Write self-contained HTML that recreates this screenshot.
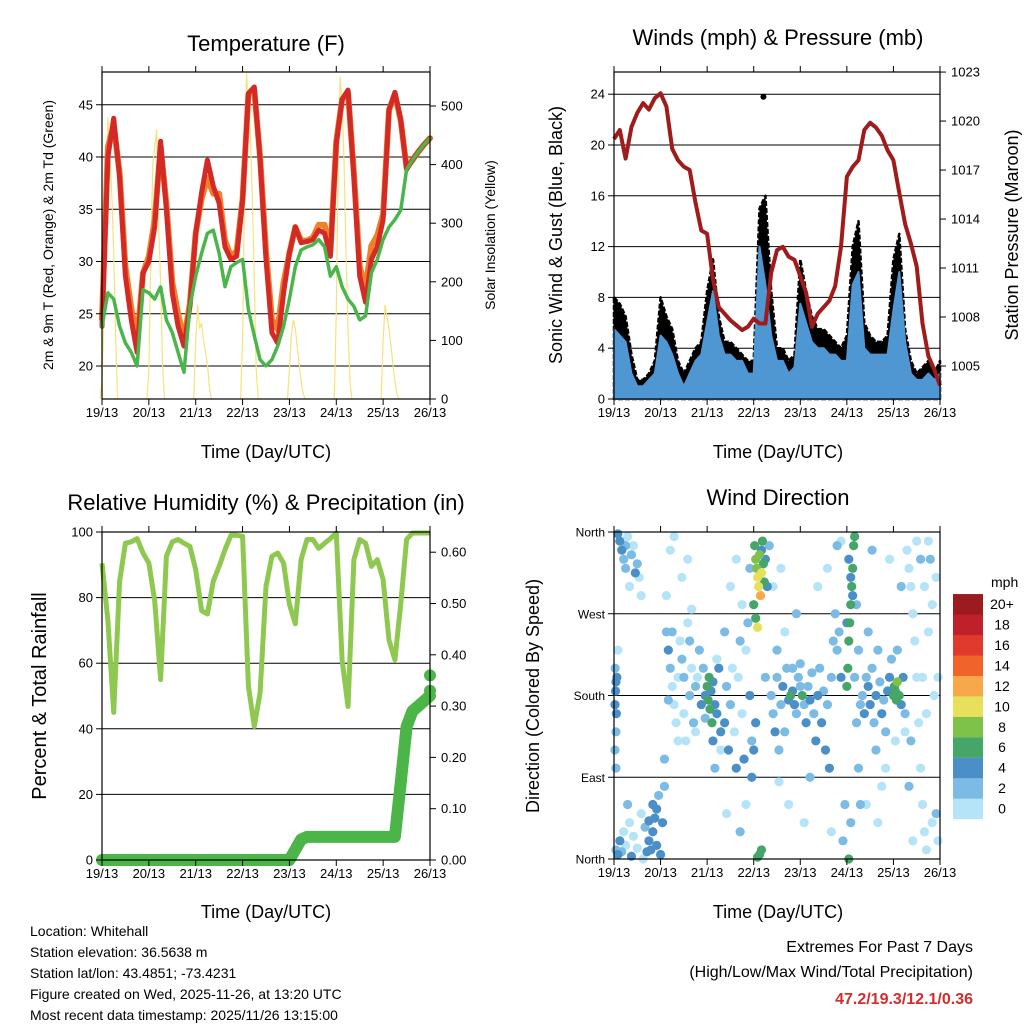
<!DOCTYPE html>
<html><head><meta charset="utf-8"><style>
html,body{margin:0;padding:0;background:#fff;}
svg{display:block;font-family:"Liberation Sans",Arial,sans-serif;}
</style></head><body>
<svg id="c" width="1024" height="1024" viewBox="0 0 1024 1024"></svg>
<script>
// ---------- DATA (3-hourly from 19/13 UTC) ----------
const dayLabels = ["19/13","20/13","21/13","22/13","23/13","24/13","25/13","26/13"];
const temp2m = [23.8,40,43.7,38.1,28.6,24.4,21.3,28.9,30,33.3,41.5,35,27,23.8,21.9,25.7,32.7,36.6,39.7,37.2,35.6,31.4,30.2,30.5,35.9,46.1,46.7,39.7,30.2,23.2,22.2,27,30.8,33.3,31.8,31.9,32.1,33,32.7,30.5,41.3,45.5,46.4,38.1,28.6,26.1,30.2,31.4,34,44.5,46.2,43.6,38.8,39.7,40.5,41.2,41.8];
const temp9m = [24.5,41,43,38.5,29.5,25.5,22.5,28.9,30.5,34,41,35.5,28,25,22.5,26,32.7,36,38,36.5,36.5,32,30.5,31,36,46,46.3,40,31,24.5,23.5,28,30.8,33.3,32,32,32.3,33.5,33.5,31,41.5,45.5,46.2,38.5,29.5,27.5,31.5,32.5,34.5,44.5,46,43.5,39,39.7,40.5,41.2,41.8];
const dewpt = [23.8,27,26.4,23.8,22.2,21.3,20,27.3,27,26.4,27.6,24.4,23.2,21.3,19.4,25.7,28.6,30.8,32.7,33,30.8,27.6,29.5,29.9,30.2,25.4,22.9,20.6,20,20.6,21.9,23.8,26.4,29.5,31.1,31.4,31.6,32.1,31.4,28.6,29.5,27.6,26.4,25.7,24.4,24.8,28.9,30.2,32.1,33.3,34,34.9,38.8,39.7,40.5,41.2,41.8];
// hourly solar insolation for hours 0..8 after each day tick (W/m2)
const solarDays = [
 [30,150,350,480,420,350,250,100,0],
 [50,250,400,430,460,300,200,60,0],
 [100,160,120,130,100,80,60,20,0],
 [100,350,556,500,450,350,200,50,0],
 [50,110,135,120,90,60,30,10,0],
 [150,400,550,500,400,250,120,30,0],
 [100,160,140,120,90,60,30,10,0]
];
const pressure = [1018.9,1019.45,1017.7,1019.65,1020.5,1021.1,1020.7,1021.4,1021.7,1020.9,1018.3,1017.6,1017.2,1017,1015,1013.3,1013.1,1010.3,1008.6,1008.2,1007.8,1007.5,1007.2,1007.4,1007.9,1007.6,1007.6,1010.7,1012.1,1012.3,1011.7,1011.5,1010.5,1009.5,1007.4,1008.2,1008.6,1009,1009.9,1012.3,1016.6,1017.2,1017.6,1019.45,1019.9,1019.6,1019.1,1018.2,1017.6,1015.6,1013.7,1012.5,1011.1,1007.6,1005.6,1004.8,1003.8];
const gustHigh = [8,7.5,6.5,3.5,1.5,1.5,2,3,8,6.5,5.5,3,2,3,4,4.5,8.5,11,6.5,4.5,4.5,4,3.5,3,3,15,16,8.5,4,4,3,3.5,11,8.5,6.5,5.5,5.5,5,4.5,4,5,12,14,6,5,4.5,4.5,5,11,13,5.5,3,2,2.5,3,2,3];
const windHigh = [5.5,5,4.5,2,1,1,1.5,2,5,4.5,3.5,2,1,2,3,3.5,6,8.5,5,3.5,3.5,3,3,2,2,12,9,5,3,3,2,2.5,7.5,6,4.5,4,4,3.5,3.5,3,3,9,10,4,3.5,3.5,3.5,3.5,7,10,4.5,2,1.5,1.5,2,1.5,2];
const gustOutlierHour = 77; const gustOutlierVal = 23.8;
const rh = [90.5,73,45,85,96.6,97,98,93.6,90.5,79,55,92.6,97,97.7,96.6,95.6,88.5,76,75,85,89.5,94.6,99,99,98.7,53,40.7,51,83.4,92.6,93.6,90.5,78,72,91.6,97.7,97.7,95,96.6,98,99.7,61,46.8,91.6,97.7,96.6,89.5,91.6,85.5,67,61,78,97.7,99.7,99.7,99.7,99.7];
const precip = [0,0,0,0,0,0,0,0,0,0,0,0,0,0,0,0,0,0,0,0,0,0,0,0,0,0,0,0,0,0,0,0,0,0.02,0.04,0.045,0.045,0.045,0.045,0.045,0.045,0.045,0.045,0.045,0.045,0.045,0.045,0.045,0.045,0.045,0.045,0.15,0.26,0.29,0.30,0.31,0.32];
const precipEnd = [0.33,0.36];
const tempTicks = [20,25,30,35,40,45];
const solarTicks = [0,100,200,300,400,500];
const windTicks = [0,4,8,12,16,20,24];
const presTicks = [1005,1008,1011,1014,1017,1020,1023];
const rhTicks = [0,20,40,60,80,100];
const precipTicks = ["0.00","0.10","0.20","0.30","0.40","0.50","0.60"];
const dirTicks = ["North","East","South","West","North"];
const speedLabels = ["0","2","4","6","8","10","12","14","16","18","20+"];
const speedColors = ["#b5e3f8","#7cbbe4","#4a8fc8","#46a66a","#7ec24a","#e6e05a","#f7a84a","#f0642a","#e03a2e","#c0202a","#9b1b1e"];
// wind direction observations [hour, direction deg, speed mph]
const dirObs = [
[1,10,3],[2,5,4],[3,20,4],[4,8,3],[5,30,1],[6,15,1],[8,40,1],[10,25,1],[12,12,1],[14,50,1],[16,35,3],[18,20,5],[19,10,5],[20,30,5],[21,45,5],[22,15,5],[22,55,4],[23,70,3],[24,5,5],[25,40,4],[26,80,3],[20,60,4],[18,42,5],[17,8,4],[15,0,1],[7,60,3],[9,3,4],
[0.5,170,4],[0.8,185,5],[1,195,4],[1.2,160,4],[0.6,210,3],[1,140,3],[0.5,120,3],[1,100,2],[2,230,1],[1.5,200,5],
[3,350,4],[4,340,4],[5,330,3],[6,320,3],[7,355,1],[8,300,1],[10,345,1],[12,325,3],[13,310,1],[14,290,1],[9,335,2],[11,315,4],[2,358,4],[6,345,2],
[27,250,3],[28,230,4],[29,210,3],[30,190,1],[31,170,1],[32,150,1],[33,200,1],[34,240,1],[35,220,3],[36,160,1],[37,130,1],[38,260,1],[39,180,3],[40,210,1],[41,150,3],[42,140,1],[43,200,1],[44,230,3],[45,170,4],[30,250,2],[33,130,1],[36,200,2],[39,240,2],[42,190,2],[27,290,1],[29,340,1],[31,355,1],[35,310,1],[38,330,1],[40,275,1],[26,110,3],[28,175,3],
[47,180,5],[48,190,7],[48.5,175,6],[49,200,6],[49.5,165,7],[50,185,5],[50.5,150,6],[51,195,5],[52,170,4],[53,160,4],[54,210,4],[55,140,4],[46,210,3],[47,155,3],[51,130,4],[52,100,2],[55,120,1],[53,220,1],
[57,150,4],[58,190,3],[59,120,4],[60,170,3],[61,210,1],[62,140,1],[63,100,4],[64,200,1],[65,240,3],[66,160,1],[67,110,4],[68,230,1],[69,260,3],[70,180,4],[71,90,4],[60,300,1],[63,330,1],[66,280,1],[70,320,2],[58,50,1],[65,30,3],[68,60,1],[71,130,3],[57,250,2],
[72.5,345,6],[73,330,8],[73.5,320,9],[74,310,10],[74.5,300,10],[75,335,8],[75.5,290,12],[76,315,10],[76.5,350,7],[77,325,6],[77.5,305,6],[72,280,6],[73,265,7],[74,255,10],[76,340,4],[78,330,4],[79,300,4],[80,345,3],[75,5,6],[76,10,6],[74,2,7],[72,120,4],[73,150,4],[78,200,3],
[81,180,3],[82,160,3],[83,140,4],[84,200,3],[85,120,3],[86,170,3],[87,190,4],[88,250,1],[89,210,3],[90,175,4],[91,180,6],[92,185,4],[93,170,4],[94,160,3],[95,200,3],[96,190,3],[97,180,7],[98,170,3],[99,150,4],[82,300,1],[86,320,1],[90,60,1],[94,270,2],[98,40,1],[84,230,2],[88,140,3],[92,210,3],[96,215,3],[85,85,1],
[100,190,3],[101,175,4],[102,205,3],[103,160,3],[104,130,4],[105,180,4],[106,210,3],[107,150,4],[108,185,3],[109,120,4],[110,170,3],[111,100,4],[112,200,3],[113,240,3],[114,270,3],[115,230,3],[116,250,3],[117,200,4],[118,20,2],[119,60,3],[105,300,1],[110,320,1],[115,345,3],[101,90,2],[112,30,1],[117,350,1],
[120,190,7],[120.5,210,6],[121,240,6],[121.5,260,7],[122,280,6],[122.5,300,6],[123,320,7],[123.5,345,6],[124,355,6],[121,330,4],[122,310,4],[123,290,4],[120,260,4],[124,200,3],[125,150,3],[126,100,2],[127,60,2],[125,280,3],[126,230,3],[127,170,3],[121,0,6],[122,40,3],
[128,180,3],[129,160,4],[130,200,3],[131,190,4],[132,170,4],[133,210,3],[134,150,3],[135,180,4],[136,230,3],[137,195,3],[138,160,4],[139,175,3],[140,140,3],[141,185,4],[142,200,4],[143,220,3],[144,180,6],[144.5,190,7],[145,185,7],[145.5,175,6],[146,195,8],[147,180,6],[148,170,4],[149,200,4],[150,160,3],[131,250,3],[135,120,3],[140,100,1],[145,130,1],[130,60,1],[136,40,1],[142,330,1],[148,300,2],[133,340,3],[138,80,1],[146,230,3],[150,140,1],
[151,340,1],[152,320,1],[153,300,1],[154,270,1],[155,240,1],[156,200,1],[157,150,1],[158,100,1],[159,60,1],[160,30,1],[161,10,1],[162,350,1],[163,330,3],[164,280,1],[165,180,1],[166,50,3],[167,20,1],[152,80,3],[154,20,1],[156,350,1],[158,330,3],[160,300,1],[162,250,1],[164,40,1],[166,310,1],[153,130,3],[159,200,1],[161,160,1],[167,200,1]
];

// ---------- RENDER ----------
const NS="http://www.w3.org/2000/svg";
const svg=document.getElementById('c');
function el(tag,attrs,parent){const e=document.createElementNS(NS,tag);for(const k in attrs)e.setAttribute(k,attrs[k]);(parent||svg).appendChild(e);return e;}
function txt(s,x,y,size,anchor,name,extra){const t=el('text',Object.assign({x:x,y:y,'font-size':size,'text-anchor':anchor||'start',fill:'#000'},extra||{}));t.textContent=s;


return t;}
function pts(arr){return arr.map(p=>p[0].toFixed(1)+','+p[1].toFixed(1)).join(' ');}

const P1={L:102,R:430,T:72,B:399}, P2={L:614,R:940,T:72,B:399}, P3={L:102,R:430,T:532,B:860}, P4={L:614,R:940,T:532,B:859};
function xH(P,h){return P.L+(P.R-P.L)*h/168;}
const yTemp=v=>366-(v-20)*10.45;
const ySolar=v=>399-v*0.586;
const yWind=v=>399-v*12.7;
const yPres=v=>366-(v-1005)*16.33;
const yRH=v=>860-v*3.28;
const yPrec=v=>860-v*513;
const yDir=d=>859-d*(327/360);

function frameAndX(P,name){
  const g=el('g',{});
  
  
  dayLabels.forEach((lab,i)=>{
    const x=P.L+(P.R-P.L)*i/7;
    el('line',{x1:x,x2:x,y1:P.B,y2:P.B+6,stroke:'#000','stroke-width':1},g);
    el('line',{x1:x,x2:x,y1:P.T,y2:P.T-6,stroke:'#000','stroke-width':1},g);
    txt(lab,x,P.B+18,13,'middle',name+'-x-tick-label');
  });
}
function hgrid(P,ys,name){
  ys.forEach(y=>{const l=el('line',{x1:P.L,x2:P.R,y1:y,y2:y,stroke:'#000','stroke-width':1});
  
  });
}
function border(P,name){const r=el('rect',{x:P.L,y:P.T,width:P.R-P.L,height:P.B-P.T,fill:'none',stroke:'#000','stroke-width':1.2});

}
function leftTicks(P,vals,yf,labels,name,size){
  vals.forEach((v,i)=>{const y=yf(v);el('line',{x1:P.L-6,x2:P.L,y1:y,y2:y,stroke:'#000'});
  txt(labels?labels[i]:String(v),P.L-9,y+4.5,size||13,'end',name);});
}
function rightTicks(P,vals,yf,labels,name,size){
  vals.forEach((v,i)=>{const y=yf(v);el('line',{x1:P.R,x2:P.R+6,y1:y,y2:y,stroke:'#000'});
  txt(labels?labels[i]:String(v),P.R+11,y+4.5,size||13,'start',name);});
}

// ===== Panel 1: Temperature =====
txt("Temperature (F)",266,51,22,'middle','temperature-title');
hgrid(P1,tempTicks.map(yTemp),'temperature');
solarDays.forEach((d,di)=>{
  const p=[[xH(P1,di*24-1),ySolar(0)]];
  d.forEach((v,h)=>p.push([xH(P1,di*24+h),ySolar(v)]));
  const l=el('polyline',{points:pts(p),fill:'none',stroke:'#f6e27a','stroke-width':1.2});
  
  
});
[[temp9m,'#f07f2a',6,'temp-9m-line'],[temp2m,'#d42a26',5,'temp-2m-line'],[dewpt,'#4ab54a',3.5,'dewpoint-line']].forEach(s=>{
  const p=s[0].map((v,i)=>[xH(P1,i*3),yTemp(v)]);
  const l=el('polyline',{points:pts(p),fill:'none',stroke:s[1],'stroke-width':s[2],'stroke-linejoin':'round','stroke-linecap':'round'});
  if(s[3]==='dewpoint-line') l.setAttribute('stroke-dasharray','3 1');
  
  
});
border(P1,'temperature');
frameAndX(P1,'temperature');
leftTicks(P1,tempTicks,yTemp,null,'temp-y-tick-label');
rightTicks(P1,solarTicks,ySolar,null,'solar-y-tick-label');
txt("Time (Day/UTC)",266,458,18,'middle','temperature-x-title');
txt("2m & 9m T (Red, Orange) & 2m Td (Green)",0,0,14,'middle','temperature-y-title',{transform:'translate(53,235) rotate(-90)'});
txt("Solar Insolation (Yellow)",0,0,14,'middle','solar-y-title',{transform:'translate(495,235) rotate(-90)'});

// ===== Panel 2: Winds =====
txt("Winds (mph) & Pressure (mb)",778,45,22,'middle','winds-title');
hgrid(P2,windTicks.slice(1).map(yWind),'winds');
{
  const base=[[xH(P2,168),yWind(0)],[xH(P2,0),yWind(0)]];
  const up=gustHigh.map((v,i)=>[xH(P2,i*3),yWind(v)]);
  const g=el('polygon',{points:pts(up.concat(base)),fill:'#000','stroke':'#000','stroke-width':2.5,'stroke-linejoin':'round','stroke-dasharray':'5 2'});
  
  
  const up2=windHigh.map((v,i)=>[xH(P2,i*3),yWind(v)]);
  const b=el('polygon',{points:pts(up2.concat(base)),fill:'#4f97d3',stroke:'#4f97d3','stroke-width':2,'stroke-linejoin':'round'});
  
  
  const o=el('circle',{cx:xH(P2,gustOutlierHour),cy:yWind(gustOutlierVal),r:3,fill:'#000'});
  
  
  const p=pressure.map((v,i)=>[xH(P2,i*3),yPres(v)]);
  const l=el('polyline',{points:pts(p),fill:'none',stroke:'#a01c1c','stroke-width':4,'stroke-linejoin':'round'});
  
  
}
border(P2,'winds');
frameAndX(P2,'winds');
leftTicks(P2,windTicks,yWind,null,'wind-y-tick-label');
rightTicks(P2,presTicks,yPres,null,'pressure-y-tick-label');
txt("Time (Day/UTC)",778,458,18,'middle','winds-x-title');
txt("Sonic Wind & Gust (Blue, Black)",0,0,18,'middle','wind-y-title',{transform:'translate(562,235) rotate(-90)'});
txt("Station Pressure (Maroon)",0,0,18,'middle','pressure-y-title',{transform:'translate(1018,235) rotate(-90)'});

// ===== Panel 3: RH & Precip =====
txt("Relative Humidity (%) & Precipitation (in)",266,510,22,'middle','humidity-title');
hgrid(P3,rhTicks.slice(1,5).map(yRH),'humidity');
{
  const pp=precip.map((v,i)=>[xH(P3,i*3),yPrec(v)]);
  const l=el('polyline',{points:pts(pp),fill:'none',stroke:'#4cb548','stroke-width':12,'stroke-linejoin':'round','stroke-linecap':'round'});
  
  
  precipEnd.forEach(v=>{const c=el('circle',{cx:P3.R,cy:yPrec(v),r:6,fill:'#4cb548'});
  
  });
  const p=rh.map((v,i)=>[xH(P3,i*3),yRH(v)]);
  const r=el('polyline',{points:pts(p),fill:'none',stroke:'#8fc850','stroke-width':5,'stroke-linejoin':'round'});
  
  
}
border(P3,'humidity');
frameAndX(P3,'humidity');
leftTicks(P3,rhTicks,yRH,null,'rh-y-tick-label');
rightTicks(P3,[0,0.1,0.2,0.3,0.4,0.5,0.6],yPrec,precipTicks,'precip-y-tick-label');
txt("Time (Day/UTC)",266,918,18,'middle','humidity-x-title');
txt("Percent & Total Rainfall",0,0,20,'middle','humidity-y-title',{transform:'translate(46,696) rotate(-90)'});

// ===== Panel 4: Wind Direction =====
txt("Wind Direction",778,505,22,'middle','direction-title');
hgrid(P4,[90,180,270].map(yDir),'direction');
{
  const sorted=dirObs.slice().sort((a,b)=>a[2]-b[2]);
  sorted.forEach(o=>{
    const bin=Math.min(10,Math.floor(o[2]/2));
    const c=el('circle',{cx:xH(P4,o[0]),cy:yDir(o[1]),r:4.6,fill:speedColors[bin]});
    
    
  });
}
border(P4,'direction');
frameAndX(P4,'direction');
leftTicks(P4,[0,90,180,270,360],yDir,dirTicks,'direction-y-tick-label',12);
txt("Time (Day/UTC)",778,918,18,'middle','direction-x-title');
txt("Direction (Colored By Speed)",0,0,18,'middle','direction-y-title',{transform:'translate(539,696) rotate(-90)'});
txt("mph",991,587,14,'start','colorbar-unit');
speedColors.forEach((c,i)=>{
  const y=819-(i+1)*20.45;
  const r=el('rect',{x:953,y:y,width:30,height:20.6,fill:c});
  
  
  txt(speedLabels[i],1002,y+15,14,'middle','colorbar-label');
});

// ===== Footer =====
["Location: Whitehall","Station elevation: 36.5638 m","Station lat/lon: 43.4851; -73.4231","Figure created on Wed, 2025-11-26, at 13:20 UTC","Most recent data timestamp: 2025/11/26 13:15:00"].forEach((s,i)=>txt(s,30,936+i*21,14,'start','footer-info-line'));
txt("Extremes For Past 7 Days",973,952,16,'end','extremes-title');
txt("(High/Low/Max Wind/Total Precipitation)",973,977,16,'end','extremes-subtitle');
txt("47.2/19.3/12.1/0.36",973,1004,16,'end','extremes-values',{fill:'#d22c2c','font-weight':'bold'});
</script>
</body></html>
